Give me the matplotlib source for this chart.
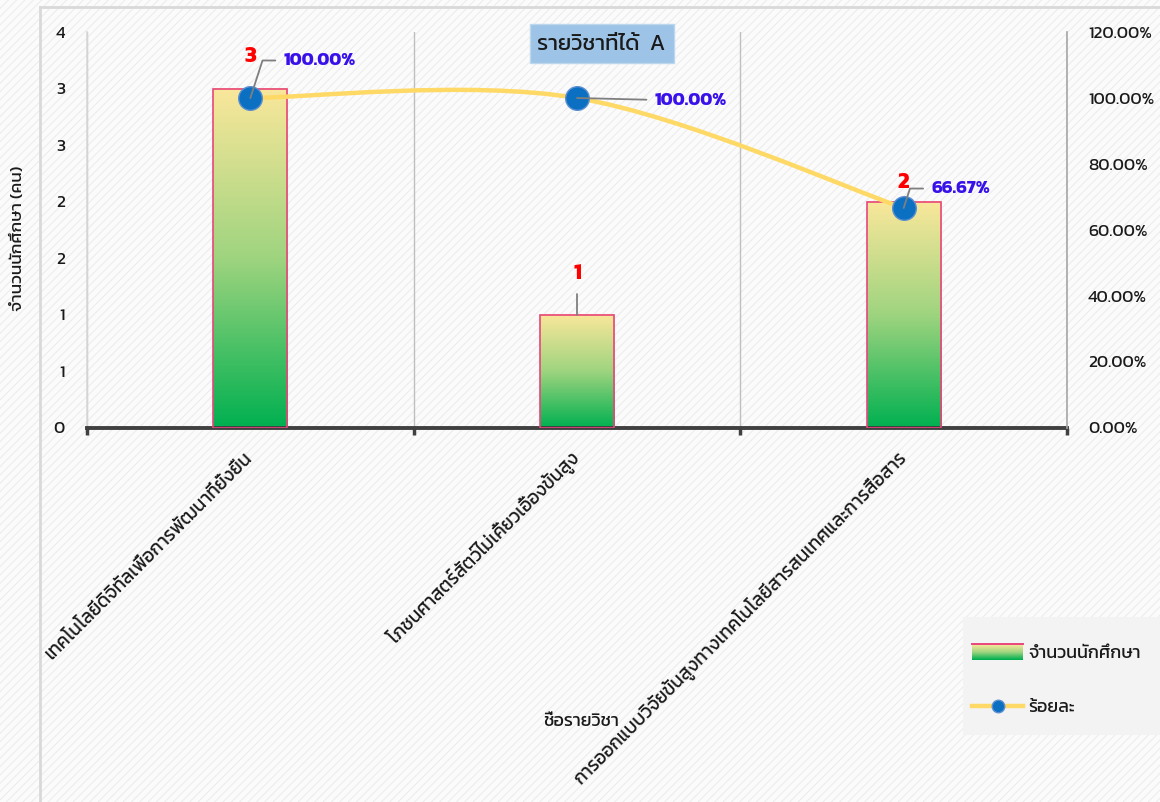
import numpy as np
import matplotlib
matplotlib.use('Agg')
import matplotlib.pyplot as plt
from matplotlib import font_manager as fm
from matplotlib.ft2font import FT2Font
from matplotlib.path import Path
from matplotlib.patches import PathPatch, Rectangle
from matplotlib.legend_handler import HandlerBase
from matplotlib.lines import Line2D
from matplotlib.colors import LinearSegmentedColormap

# ---------------- data ----------------
categories = [
    "เทคโนโลยีดิจิทัลเพื่อการพัฒนาที่ยั่งยืน",
    "โภชนศาสตร์สัตว์ไม่เคี้ยวเอื้องขั้นสูง",
    "การออกแบบวิจัยขั้นสูงทางเทคโนโลยีสารสนเทศและการสื่อสาร",
]
counts = [3, 1, 2]
percents = [100.00, 100.00, 66.67]
count_labels = ["3", "1", "2"]
percent_labels = ["100.00%", "100.00%", "66.67%"]
left_ticks = [0, 0.5, 1, 1.5, 2, 2.5, 3, 3.5]
left_ticklabels = ["0", "1", "1", "2", "2", "3", "3", "4"]
right_ticks = [0, 20, 40, 60, 80, 100, 120]
right_ticklabels = ["0.00%", "20.00%", "40.00%", "60.00%", "80.00%", "100.00%", "120.00%"]
title = "รายวิชาที่ได้  A"
ylabel = "จำนวนนักศึกษา (คน)"
xlabel = "ชื่อรายวิชา"
legend_bar = "จำนวนนักศึกษา"
legend_line = "ร้อยละ"

# ---------------- font ----------------
def find_thai_font():
    found = []
    for f in fm.fontManager.ttflist:
        try:
            if 0x0E01 in FT2Font(f.fname).get_charmap():
                found.append(f.name)
        except Exception:
            pass
    for pref in ["Kanit", "Prompt", "Noto Sans Thai UI", "Noto Sans Thai", "Noto Sans", "Sarabun", "Tahoma"]:
        if pref in found:
            return pref
    for n in found:
        if "Thai" in n and "Looped" not in n:
            return n
    return found[0] if found else "DejaVu Sans"

thai = find_thai_font()
plt.rcParams['font.family'] = [thai, 'DejaVu Sans']
plt.rcParams['hatch.linewidth'] = 0.7

W, H = 1160, 802
fig = plt.figure(figsize=(W / 100, H / 100), dpi=100)
fig.patch.set_facecolor('#FBFBFB')

def fx(px):
    return px / W

def fy(py):
    return 1 - py / H

TXT = '#1a1a1a'

# background hatch
bg = fig.add_axes([0, 0, 1, 1], zorder=-10)
bg.axis('off')
bg.add_patch(Rectangle((0, 0), 1, 1, transform=bg.transAxes, facecolor='#FBFBFB',
                       hatch='////', edgecolor='#EBEBEB', lw=0))
# chart border
bg.add_line(Line2D([fx(40), 1], [fy(7), fy(7)], color='#D9D9D9', lw=2, transform=bg.transAxes))
bg.add_line(Line2D([fx(40), fx(40)], [fy(7), 0], color='#D9D9D9', lw=2, transform=bg.transAxes))
# legend background
bg.add_patch(Rectangle((fx(963), fy(735)), fx(1160) - fx(963), fy(617) - fy(735),
                       transform=bg.transAxes, facecolor='#F3F3F3', edgecolor='none'))
# title box
bg.add_patch(Rectangle((fx(530), fy(63)), fx(674) - fx(530), fy(24) - fy(63),
                       transform=bg.transAxes, facecolor='#9DC3E6', edgecolor='#BDD7EE', lw=1))

left, right, top, bottom = 87, 1067, 32, 428
ax = fig.add_axes([fx(left), fy(bottom), fx(right) - fx(left), fy(top) - fy(bottom)])
ax.patch.set_visible(False)

cmap = LinearSegmentedColormap.from_list('g', ['#00B050', '#9FD47F', '#FAE79B'])
x = np.arange(len(categories))
bar_w = 0.227
bars = ax.bar(x, counts, width=bar_w, facecolor='none', edgecolor='#E8467C', lw=1.2, zorder=3)
grad = np.linspace(0, 1, 256).reshape(-1, 1)
for b in bars:
    x0, y0, w, h = b.get_x(), b.get_y(), b.get_width(), b.get_height()
    ax.imshow(grad, extent=[x0, x0 + w, y0, y0 + h], origin='lower', cmap=cmap,
              aspect='auto', zorder=2, interpolation='bilinear')

ax.set_xlim(-0.5, len(categories) - 0.5)
ax.set_ylim(0, 3.5)
ax.set_yticks(left_ticks)
ax.set_yticklabels(left_ticklabels)
ax.tick_params(axis='y', length=0, pad=16, labelsize=12.5, labelcolor=TXT)
ax.set_xticks(x)
ax.set_xticklabels(categories, rotation=45, ha='right', va='center',
                   rotation_mode='anchor', fontsize=13.4, color=TXT)
ax.set_xticks(np.arange(-0.5, len(categories)), minor=True)
ax.tick_params(axis='x', which='major', length=0, pad=19.5)
ax.tick_params(axis='x', which='minor', length=5, width=2.5, color='#404040', direction='out')
ax.grid(axis='x', which='minor', color='#BFBFBF', lw=1)
ax.set_axisbelow(True)
ax.spines['top'].set_visible(False)
ax.spines['right'].set_visible(False)
ax.spines['left'].set_color('#D9D9D9')
ax.spines['left'].set_linewidth(1.2)
ax.spines['bottom'].set_color('#404040')
ax.spines['bottom'].set_linewidth(2.8)

# right axis
ax2 = ax.twinx()
ax2.patch.set_visible(False)
ax2.set_ylim(0, 120)
ax2.set_yticks(right_ticks)
ax2.set_yticklabels(right_ticklabels)
ax2.tick_params(axis='y', length=0, pad=15, labelsize=12.5, labelcolor=TXT)
for s in ['top', 'left', 'bottom']:
    ax2.spines[s].set_visible(False)
ax2.spines['right'].set_color('#A6A6A6')
ax2.spines['right'].set_linewidth(1.2)

# smooth line through the points (Catmull-Rom style Bezier, Excel-like)
pts = np.column_stack([x, percents]).astype(float)
verts = [tuple(pts[0])]
codes = [Path.MOVETO]
n = len(pts)
for i in range(n - 1):
    p0 = pts[max(i - 1, 0)]
    p1 = pts[i]
    p2 = pts[i + 1]
    p3 = pts[min(i + 2, n - 1)]
    c1 = p1 + (p2 - p0) / 6.0
    c2 = p2 - (p3 - p1) / 6.0
    verts += [tuple(c1), tuple(c2), tuple(p2)]
    codes += [Path.CURVE4] * 3
ax2.add_patch(PathPatch(Path(verts, codes), facecolor='none', edgecolor='#FFD966', lw=3.2,
                        zorder=4, capstyle='round'))
ax2.plot(x, percents, linestyle='none', marker='o', markersize=17, markerfacecolor='#0B6FC2',
         markeredgecolor='#5B8FD0', markeredgewidth=1, zorder=5)

# count labels (drawn on the top axes so they stay above the line)
count_offsets = [(0, 23), (0, 30), (0, 14)]
for i, (lab, off) in enumerate(zip(count_labels, count_offsets)):
    ax2.annotate(lab, xy=(x[i], counts[i]), xycoords=ax.transData, xytext=off,
                 textcoords='offset points', ha='center', va='center', color='#FF0000',
                 fontsize=16, fontweight='bold', zorder=6)
# leader for bar 1 count label
ax.annotate('', xy=(x[1], counts[1]), xytext=(0, 15), textcoords='offset points',
            arrowprops=dict(arrowstyle='-', color='#7F7F7F', lw=1.3, shrinkA=0, shrinkB=0))

# percent labels
pct_offsets = [(24, 27), (56, -2), (20, 14)]
conn = ['angle,angleA=0,angleB=72,rad=0', 'arc3,rad=0', 'angle,angleA=0,angleB=72,rad=0']
for i, (lab, off) in enumerate(zip(percent_labels, pct_offsets)):
    ax2.annotate(lab, xy=(x[i], percents[i]), xytext=off, textcoords='offset points',
                 ha='left', va='center', color='#3810EA', fontsize=13, fontweight='bold',
                 zorder=7,
                 arrowprops=dict(arrowstyle='-', color='#7F7F7F', lw=1.3, shrinkA=4, shrinkB=0,
                                 connectionstyle=conn[i]))

# title
fig.text(fx(601), fy(44), title, ha='center', va='center', fontsize=16, color=TXT)

# axis titles
fig.text(fx(18), fy(238), ylabel, rotation=90, ha='center', va='center', fontsize=12.5, color=TXT)
fig.text(fx(581), fy(721), xlabel, ha='center', va='center', fontsize=13, color=TXT)

# legend
class GradHandler(HandlerBase):
    def create_artists(self, legend, orig_handle, xdescent, ydescent, width, height, fontsize, trans):
        arts = []
        k = 16
        h = height * 1.25
        y0 = -ydescent - (h - height) / 2
        for j in range(k):
            c = cmap(j / (k - 1))
            arts.append(Rectangle((-xdescent, y0 + h * j / k), width, h / k * 1.05,
                                  facecolor=c, edgecolor='none', transform=trans))
        arts.append(Line2D([-xdescent, -xdescent + width], [y0 + h, y0 + h],
                           color='#E8467C', lw=1.4, transform=trans))
        return arts

bar_handle = Rectangle((0, 0), 1, 1)
line_handle = Line2D([], [], color='#FFD966', lw=3.2, marker='o', markersize=9,
                     markerfacecolor='#0B6FC2', markeredgecolor='#5B8FD0')
leg = ax2.legend([bar_handle, line_handle], [legend_bar, legend_line],
                 handler_map={Rectangle: GradHandler()},
                 loc='upper left', bbox_to_anchor=(fx(963), fy(636)), bbox_transform=fig.transFigure,
                 frameon=False, borderpad=0, labelspacing=2.05, handlelength=2.85,
                 handletextpad=0.25, fontsize=13)
for t in leg.get_texts():
    t.set_color(TXT)

fig.savefig('out.png', dpi=100, facecolor=fig.get_facecolor())
